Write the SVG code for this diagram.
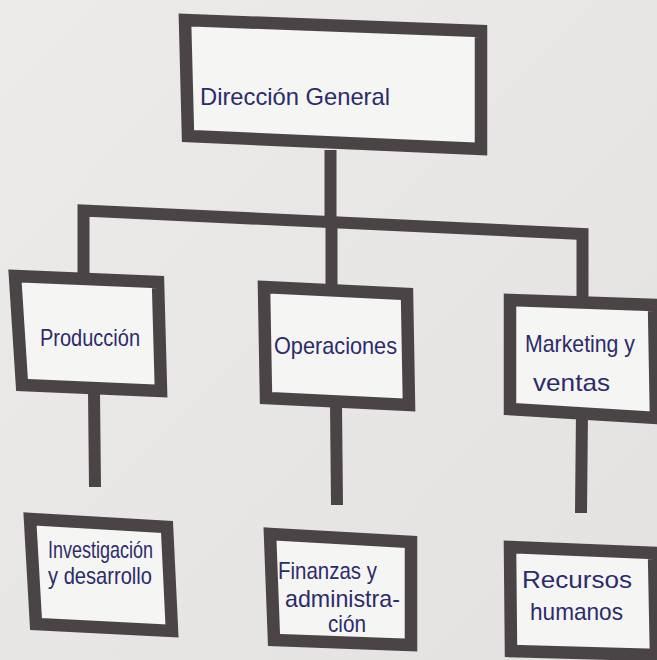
<svg xmlns="http://www.w3.org/2000/svg" width="657" height="660" viewBox="0 0 657 660">
<defs>
<style>
.bg{fill:#e8e7e5}
.box{fill:#f5f5f3;stroke:#4a4447;stroke-width:12.5;stroke-linejoin:miter}
.ln{fill:none;stroke:#4a4447;stroke-width:12;stroke-linejoin:miter;stroke-linecap:butt}
.t{font-family:"Liberation Sans Narrow","Liberation Sans",sans-serif;fill:#2c2b6b;font-size:24px}
</style>
<linearGradient id="g" x1="0" y1="0" x2="1" y2="1">
<stop offset="0" stop-color="#ecebe9"/>
<stop offset="1" stop-color="#e3e2e0"/>
</linearGradient>
</defs>
<rect width="657" height="660" fill="url(#g)"/>
<g id="connectors">
<line class="ln" x1="330.5" y1="150" x2="330.5" y2="222"/>
<polyline class="ln" points="83.5,275 83.5,210.5 582.5,234 582.5,298"/>
<line class="ln" x1="331.5" y1="222" x2="331.5" y2="288"/>
<line class="ln" x1="94" y1="392" x2="95" y2="487"/>
<line class="ln" x1="336" y1="405" x2="337" y2="505"/>
<line class="ln" x1="582" y1="412" x2="581" y2="513"/>
</g>
<g id="direccion">
<polygon class="box" points="185,20 481,31 481,149 188,136"/>
<text class="t" x="200" y="105" font-size="32" textLength="190" lengthAdjust="spacingAndGlyphs">Dirección General</text>
</g>
<g id="produccion">
<polygon class="box" points="15,276 158,282 161,391 22,385"/>
<text class="t" x="40" y="346" textLength="100" lengthAdjust="spacingAndGlyphs">Producción</text>
</g>
<g id="operaciones">
<polygon class="box" points="264,287 407,294 409,405 266,398"/>
<text class="t" x="274" y="354" font-size="26" textLength="123" lengthAdjust="spacingAndGlyphs">Operaciones</text>
</g>
<g id="marketing">
<polygon class="box" points="510,300 654,305 656,418 510,409"/>
<text class="t" x="525" y="352" textLength="110" lengthAdjust="spacingAndGlyphs">Marketing y</text>
<text class="t" x="533" y="391" textLength="77" lengthAdjust="spacingAndGlyphs">ventas</text>
</g>
<g id="investigacion">
<polygon class="box" points="30,519 167,527 172,631 36,624"/>
<text class="t" x="48" y="558" font-size="20" textLength="105" lengthAdjust="spacingAndGlyphs">Investigación</text>
<text class="t" x="48" y="584" font-size="20" textLength="104" lengthAdjust="spacingAndGlyphs">y desarrollo</text>
</g>
<g id="finanzas">
<polygon class="box" points="270,534 411,542 411,645 274,640"/>
<text class="t" x="278" y="579" font-size="22" textLength="99" lengthAdjust="spacingAndGlyphs">Finanzas y</text>
<text class="t" x="285" y="607" font-size="22" textLength="115" lengthAdjust="spacingAndGlyphs">administra-</text>
<text class="t" x="328" y="632" font-size="20" textLength="38" lengthAdjust="spacingAndGlyphs">ción</text>
</g>
<g id="recursos">
<polygon class="box" points="510,547 654,553 656,655 511,651"/>
<text class="t" x="522" y="588" textLength="110" lengthAdjust="spacingAndGlyphs">Recursos</text>
<text class="t" x="530" y="620" textLength="93" lengthAdjust="spacingAndGlyphs">humanos</text>
</g>
</svg>
